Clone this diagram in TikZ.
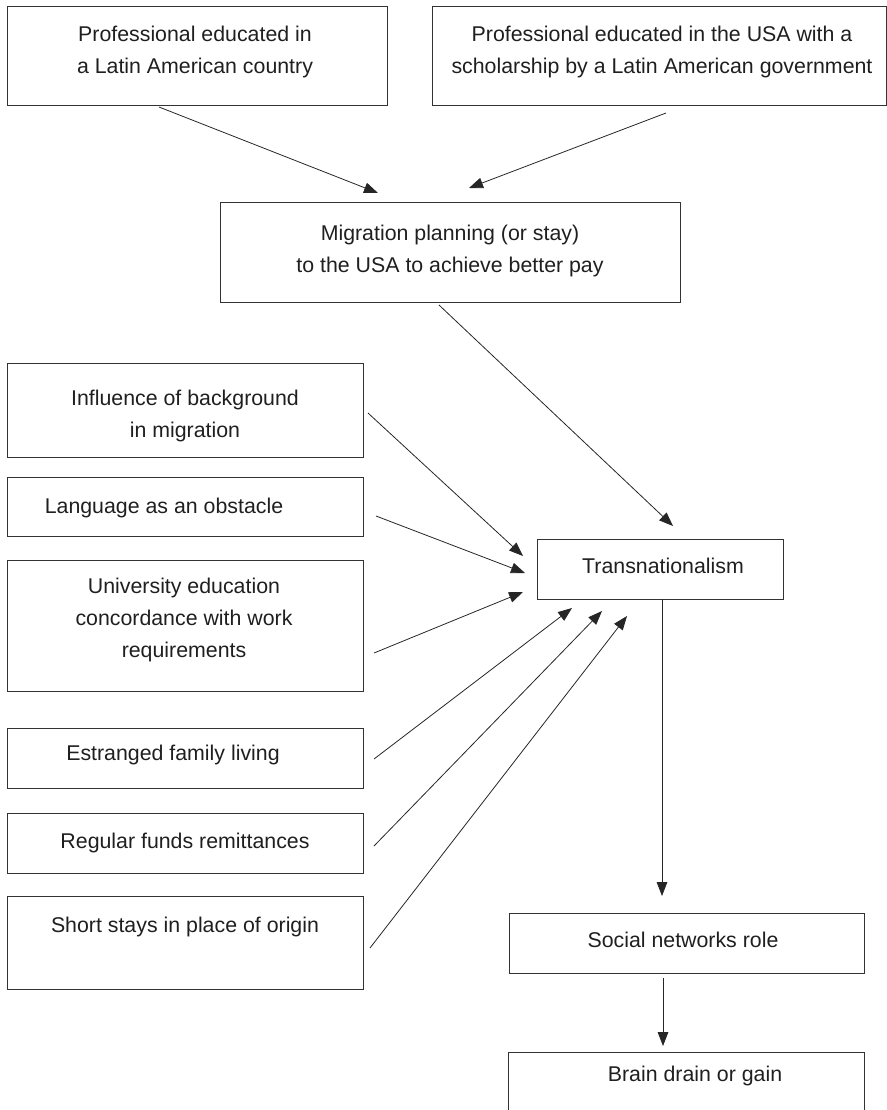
\documentclass[tikz,border=0pt]{standalone}
\usepackage{fontspec}
\setmainfont{Liberation Sans}
\usetikzlibrary{arrows.meta}
\begin{document}
\begin{tikzpicture}[x=0.75pt,y=-0.75pt,
  box/.style={draw=black!80, line width=0.75pt, inner sep=0pt},
  txt/.style={align=center, inner sep=0pt, text=black!88, font=\fontsize{16pt}{24pt}\selectfont},
  arr/.style={draw=black!85, line width=0.6pt, -{Triangle[length=10.5pt,width=8pt]}}]
\useasboundingbox (0,0) rectangle (887,1110);
% boxes
\node[box, minimum width=380*0.75pt, minimum height=99*0.75pt] (b1) at (197,55.5) {};
\node[box, minimum width=454*0.75pt, minimum height=99*0.75pt] (b2) at (659,55.5) {};
\node[box, minimum width=460*0.75pt, minimum height=100*0.75pt] (mig) at (450,252) {};
\node[box, minimum width=356*0.75pt, minimum height=94*0.75pt] (inf) at (185,410) {};
\node[box, minimum width=356*0.75pt, minimum height=59*0.75pt] (lang) at (185,506.5) {};
\node[box, minimum width=356*0.75pt, minimum height=131*0.75pt] (univ) at (185,625.5) {};
\node[box, minimum width=356*0.75pt, minimum height=60*0.75pt] (est) at (185,758) {};
\node[box, minimum width=356*0.75pt, minimum height=60*0.75pt] (reg) at (185,843) {};
\node[box, minimum width=356*0.75pt, minimum height=93*0.75pt] (short) at (185,942.5) {};
\node[box, minimum width=246*0.75pt, minimum height=60*0.75pt] (trans) at (660,569) {};
\node[box, minimum width=355*0.75pt, minimum height=60*0.75pt] (soc) at (686.5,943) {};
\node[inner sep=0pt, minimum width=355*0.75pt, minimum height=62*0.75pt] (brain) at (686.5,1084) {};
\draw[draw=black!80, line width=0.75pt] (brain.south west) -- (brain.north west) -- (brain.north east) -- (brain.south east);
% texts
\node[txt] (t1) at (195,52) {Professional educated in\\a Latin American country};
\node[txt] (t2) at (662,52) {Professional educated in the USA with a\\scholarship by a Latin American government};
\node[txt] (tmig) at (450,251) {Migration planning (or stay)\\to the USA to achieve better pay};
\node[txt] (tinf) at (185,416) {Influence of background\\in migration};
\node[txt] (tlang) at (164,508) {Language as an obstacle};
\node[txt] (tuniv) at (184,620) {University education\\concordance with work\\requirements};
\node[txt] (test) at (173,755) {Estranged family living};
\node[txt] (treg) at (185,843) {Regular funds remittances};
\node[txt] (tshort) at (185,927) {Short stays in place of origin};
\node[txt] (ttrans) at (663,566) {Transnationalism};
\node[txt] (tsoc) at (683,940) {Social networks role};
\node[txt] (tbrain) at (695,1076) {Brain drain or gain};
% connector end points
\coordinate (a1s) at (159,107); \coordinate (a1e) at (378,193);
\coordinate (a2s) at (666,113); \coordinate (a2e) at (469,188);
\coordinate (a3s) at (439,305); \coordinate (a3e) at (673,526);
\coordinate (a4s) at (368,413); \coordinate (a4e) at (523,556);
\coordinate (a5s) at (376,516); \coordinate (a5e) at (525,573);
\coordinate (a6s) at (374,653); \coordinate (a6e) at (523,592);
\coordinate (a7s) at (374,759); \coordinate (a7e) at (572,608);
\coordinate (a8s) at (374,846); \coordinate (a8e) at (602,611);
\coordinate (a9s) at (370,948); \coordinate (a9e) at (627,616);
\coordinate (a10s) at (662,599); \coordinate (a10e) at (662,896);
\coordinate (a11s) at (663,978); \coordinate (a11e) at (663,1046);
% connectors
\draw[arr] (a1s) -- (a1e);
\draw[arr] (a2s) -- (a2e);
\draw[arr] (a3s) -- (a3e);
\draw[arr] (a4s) -- (a4e);
\draw[arr] (a5s) -- (a5e);
\draw[arr] (a6s) -- (a6e);
\draw[arr] (a7s) -- (a7e);
\draw[arr] (a8s) -- (a8e);
\draw[arr] (a9s) -- (a9e);
\draw[arr] (a10s) -- (a10e);
\draw[arr] (a11s) -- (a11e);
\end{tikzpicture}
\end{document}
